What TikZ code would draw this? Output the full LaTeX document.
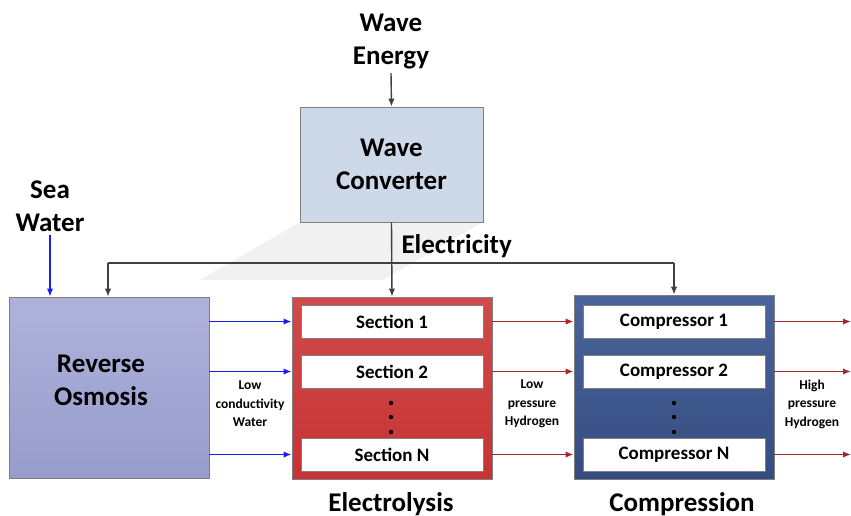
\documentclass[tikz,border=0pt]{standalone}
\usepackage{fontspec}
\setmainfont{Carlito}
\usetikzlibrary{arrows.meta, shadows}

\definecolor{edgegray}{HTML}{7F7F7F}
\definecolor{powergray}{HTML}{404040}
\definecolor{shadegray}{HTML}{F1F1F1}
\definecolor{convblue}{HTML}{CDD8E8}
\definecolor{rotop}{HTML}{AEB2DB}
\definecolor{robot}{HTML}{989CCB}
\definecolor{eltop}{HTML}{D14A4B}
\definecolor{elbot}{HTML}{C73334}
\definecolor{cmptop}{HTML}{4A659B}
\definecolor{cmpbot}{HTML}{354C80}
\definecolor{waterblue}{HTML}{1C1CF2}
\definecolor{gasred}{HTML}{A3282B}

\begin{document}
\begin{tikzpicture}[
    x=1pt, y=-1pt,
    every node/.style={font=\bfseries},
    bigtxt/.style={font=\fontsize{27}{33}\selectfont\bfseries, align=center},
    smalltxt/.style={font=\fontsize{13.5}{18.5}\selectfont\bfseries, align=center},
    stagebox/.style={draw=edgegray, line width=0.9pt, inner sep=0pt},
    unitbox/.style={draw=edgegray, line width=0.8pt, fill=white, inner sep=0pt,
      minimum width=182pt, minimum height=33pt,
      font=\fontsize{19}{22}\selectfont\bfseries,
      drop shadow={shadow xshift=1.2pt, shadow yshift=-1.2pt, opacity=.4}},
    tip/.style={-{Latex[length=8pt, width=6.5pt]}},
    power/.style={tip, draw=powergray, line width=1.4pt},
    water/.style={tip, draw=waterblue, line width=1.6pt},
    gas/.style={tip, draw=gasred, line width=1.6pt},
  ]
    \useasboundingbox (0,0) rectangle (851,515);

    % 转换器下方的浅灰倒影
    \fill[shadegray] (300,222) -- (483,222) -- (383,280) -- (200,280) -- cycle;

    % 波浪能与转换器
    \node[bigtxt] (wave) at (391,42) {Wave\\Energy};
    \node[stagebox, bigtxt, fill=convblue, minimum width=183pt, minimum height=115pt]
      (conv) at (391.5,164.5) {Wave\\Converter};
    \draw[power] (wave.south) -- (conv.north);

    % 海水与反渗透
    \node[bigtxt] (sea) at (50,206) {Sea\\Water};
    \node[stagebox, top color=rotop, bottom color=robot, minimum width=200pt, minimum height=181pt]
      (ro) at (109,387.5) {};
    \node[bigtxt] (rotxt) at (101,380) {Reverse\\Osmosis};
    \draw[water] (sea.south) -- (sea.south |- ro.north);

    % 电解与压缩两级
    \node[stagebox, top color=eltop, bottom color=elbot, minimum width=200pt, minimum height=182pt]
      (elec) at (392,388) {};
    \node[stagebox, top color=cmptop, bottom color=cmpbot, minimum width=200pt, minimum height=184pt]
      (comp) at (674,387) {};
    \foreach \i/\y in {1/321.5, 2/371.5, N/454.5} {
      \node[unitbox] (sec\i) at (392,\y) {Section \i};
      \node[unitbox] (cmp\i) at (674,\y) {Compressor \i};
    }

    % 省略号
    \foreach \y in {403, 417, 432} {
      \fill (391,\y) circle (2.2);
      \fill (674,\y) circle (2.2);
    }

    % 电力母线
    \coordinate (busL) at (108,263);
    \coordinate (busR) at (674,263);
    \coordinate (rim) at (851,0);
    \draw[powergray, line width=1.4pt] (busL) -- (busR);
    \draw[power] (busL) -- (busL |- ro.north);
    \draw[power] (busR) -- (busR |- comp.north);
    \draw[power] (conv.south) -- (elec.north);
    \node[bigtxt, anchor=base west] (elecy) at (398,253) {Electricity};

    % 水流与氢气流
    \foreach \i in {1, 2, N} {
      \draw[water] (ro.east |- sec\i) -- (elec.west |- sec\i);
      \draw[gas] (elec.east |- sec\i) -- (comp.west |- sec\i);
      \draw[gas] (comp.east |- cmp\i) -- (rim |- cmp\i);
    }

    % 流线之间的小标签
    \node[smalltxt] (lowwater) at (250,404) {Low\\conductivity\\Water};
    \node[smalltxt] (lowgas) at (532,404) {Low\\pressure\\Hydrogen};
    \node[smalltxt] (highgas) at (812,404) {High\\pressure\\Hydrogen};

    % 两级名称
    \node[bigtxt, anchor=base] (eltxt) at (391,511) {Electrolysis};
    \node[bigtxt, anchor=base] (cmptxt) at (682,511) {Compression};
  \end{tikzpicture}
\end{document}
